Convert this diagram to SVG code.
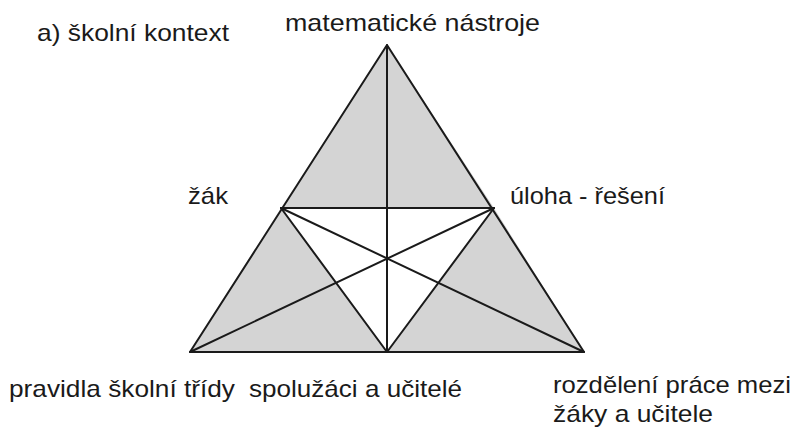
<svg xmlns="http://www.w3.org/2000/svg" width="795" height="429" viewBox="0 0 795 429">
<style>
.t{font-family:"Liberation Sans",Arial,sans-serif;font-size:24px;fill:#1a1a1a}
.g{fill:#d4d4d4;stroke:none}
.l{stroke:#1a1a1a;stroke-width:2;fill:none;stroke-linecap:round;stroke-linejoin:round}
</style>
<rect width="795" height="429" fill="#fff"/>
<g id="areas">
<polygon class="g" points="387,45 281,208 494,208"/>
<polygon class="g" points="281,208 190,352 387,352"/>
<polygon class="g" points="494,208 387,352 584,352"/>
</g>
<g id="connectors">
<polygon class="l" points="387,45 190,352 584,352"/>
<line class="l" x1="281" y1="208" x2="494" y2="208"/>
<line class="l" x1="281" y1="208" x2="387" y2="352"/>
<line class="l" x1="494" y1="208" x2="387" y2="352"/>
<line class="l" x1="387" y1="45" x2="387" y2="352"/>
<line class="l" x1="190" y1="352" x2="494" y2="208"/>
<line class="l" x1="584" y1="352" x2="281" y2="208"/>
</g>
<g id="title"><text class="t" x="37" y="41" textLength="192" lengthAdjust="spacingAndGlyphs">a) školní kontext</text></g>
<g id="n-top"><text class="t" x="285" y="31" textLength="255" lengthAdjust="spacingAndGlyphs">matematické nástroje</text></g>
<g id="n-left"><text class="t" x="188" y="204" textLength="40" lengthAdjust="spacingAndGlyphs">žák</text></g>
<g id="n-right"><text class="t" x="510" y="204" textLength="155" lengthAdjust="spacingAndGlyphs">úloha - řešení</text></g>
<g id="n-bl"><text class="t" x="9" y="397" textLength="226" lengthAdjust="spacingAndGlyphs">pravidla školní třídy</text></g>
<g id="n-bm"><text class="t" x="249" y="397" textLength="213" lengthAdjust="spacingAndGlyphs">spolužáci a učitelé</text></g>
<g id="n-br">
<text class="t" x="553" y="393" textLength="238" lengthAdjust="spacingAndGlyphs">rozdělení práce mezi</text>
<text class="t" x="553" y="422" textLength="160" lengthAdjust="spacingAndGlyphs">žáky a učitele</text>
</g>
</svg>
